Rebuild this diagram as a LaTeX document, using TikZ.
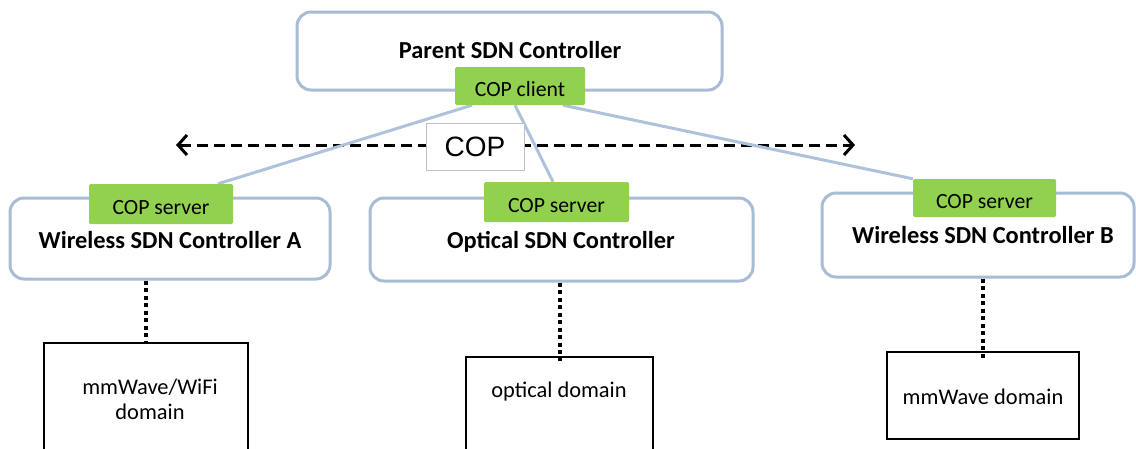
\documentclass[tikz,border=0pt]{standalone}
\usepackage{fontspec}
\setmainfont{Carlito}
\newfontfamily\arialfont{Liberation Sans}
\usetikzlibrary{arrows.meta,backgrounds}
\definecolor{frameblue}{HTML}{A9BCD6}
\definecolor{linkblue}{HTML}{AFC2DB}
\definecolor{copgreen}{HTML}{92D050}
\begin{document}
\begin{tikzpicture}[x=1pt,y=-1pt,
  ctrl/.style={draw=frameblue, line width=3pt, rounded corners=14pt, fill=white, inner sep=0pt},
  agent/.style={fill=copgreen, rounded corners=1.5pt, inner sep=0pt, text height=21pt, text depth=0pt,
    font=\fontsize{21.7}{24}\selectfont},
  ctrltitle/.style={font=\fontsize{24.4}{28}\selectfont\bfseries, inner sep=0pt},
  netbox/.style={draw=black, line width=1.6pt, fill=white, inner sep=0pt},
  nettext/.style={font=\fontsize{22.4}{25}\selectfont, inner sep=0pt, align=center},
  link/.style={draw=linkblue, line width=3pt},
  tie/.style={line width=4pt, dash pattern=on 4pt off 3.5pt},
  protocol/.style={line width=3pt, dash pattern=on 11pt off 6pt,
    {Straight Barb[length=9pt,width=20pt,line width=3pt]}-{Straight Barb[length=9pt,width=20pt,line width=3pt]}},
]
\useasboundingbox (0,0) rectangle (1136,448);
\clip (0,0) rectangle (1136,448);

% parent controller with its COP client
\node[ctrl, minimum width=425pt, minimum height=78pt] (parent) at (509.5,51) {};
\node[ctrltitle] (parenttitle) at (510,50) {Parent SDN Controller};
\node[agent, minimum width=130pt, minimum height=38pt] (client) at (520,86) {COP client};

% child controllers with their COP servers
\node[ctrl, minimum width=320pt, minimum height=81pt] (ctrlA) at (170,238.5) {};
\node[agent, minimum width=144pt, minimum height=40pt] (srvA) at (161,204) {COP server};
\node[ctrltitle] (titleA) at (170,240) {Wireless SDN Controller A};

\node[ctrl, minimum width=383pt, minimum height=83pt] (ctrlO) at (561.5,239.5) {};
\node[agent, minimum width=145pt, minimum height=40pt] (srvO) at (556.5,202) {COP server};
\node[ctrltitle] (titleO) at (561,242) {Optical SDN Controller};

\node[ctrl, minimum width=312pt, minimum height=84pt] (ctrlB) at (978,235) {};
\node[agent, minimum width=143pt, minimum height=38pt] (srvB) at (984.5,198) {COP server};
\node[ctrltitle] (titleB) at (983,235) {Wireless SDN Controller B};

% managed domains
\node[netbox, minimum width=204pt, minimum height=127pt] (domA) at (146,406.5) {};
\node[nettext] (domAtext) at (150,399.5) {mmWave/WiFi\\domain};
\node[netbox, minimum width=187pt, minimum height=113pt] (domO) at (559.5,413.5) {};
\node[nettext] (domOtext) at (559,392) {optical domain};
\node[netbox, minimum width=192pt, minimum height=87pt] (domB) at (983,395.5) {};
\node[nettext] (domBtext) at (983,397) {mmWave domain};

% COP protocol arrow and its label
\coordinate (copL) at (176,145);
\coordinate (copR) at (855,145);
\begin{pgfonlayer}{background}
  \draw[protocol] (copL) -- (copR);
  \draw[link] ([xshift=-48pt]client.south) -- ([xshift=57pt]srvA.north);
  \draw[link] ([xshift=-5pt]client.south) -- ([xshift=-3.5pt]srvO.north);
  \draw[link] ([xshift=43pt]client.south) -- (srvB.north west);
\end{pgfonlayer}
\node[draw=black!25, line width=0.8pt, fill=white, minimum width=98pt, minimum height=47pt,
  inner sep=0pt, font=\arialfont\fontsize{28}{32}\selectfont] (coplabel) at (475,146.5) {COP};

% controllers attached to their domains
\draw[tie] (ctrlA.south -| domA.north) -- (domA.north);
\draw[tie] (ctrlO.south -| domO.north) -- ([yshift=-5pt]domO.north);
\draw[tie] (ctrlB.south -| domB.north) -- ([yshift=-9pt]domB.north);
\end{tikzpicture}
\end{document}
